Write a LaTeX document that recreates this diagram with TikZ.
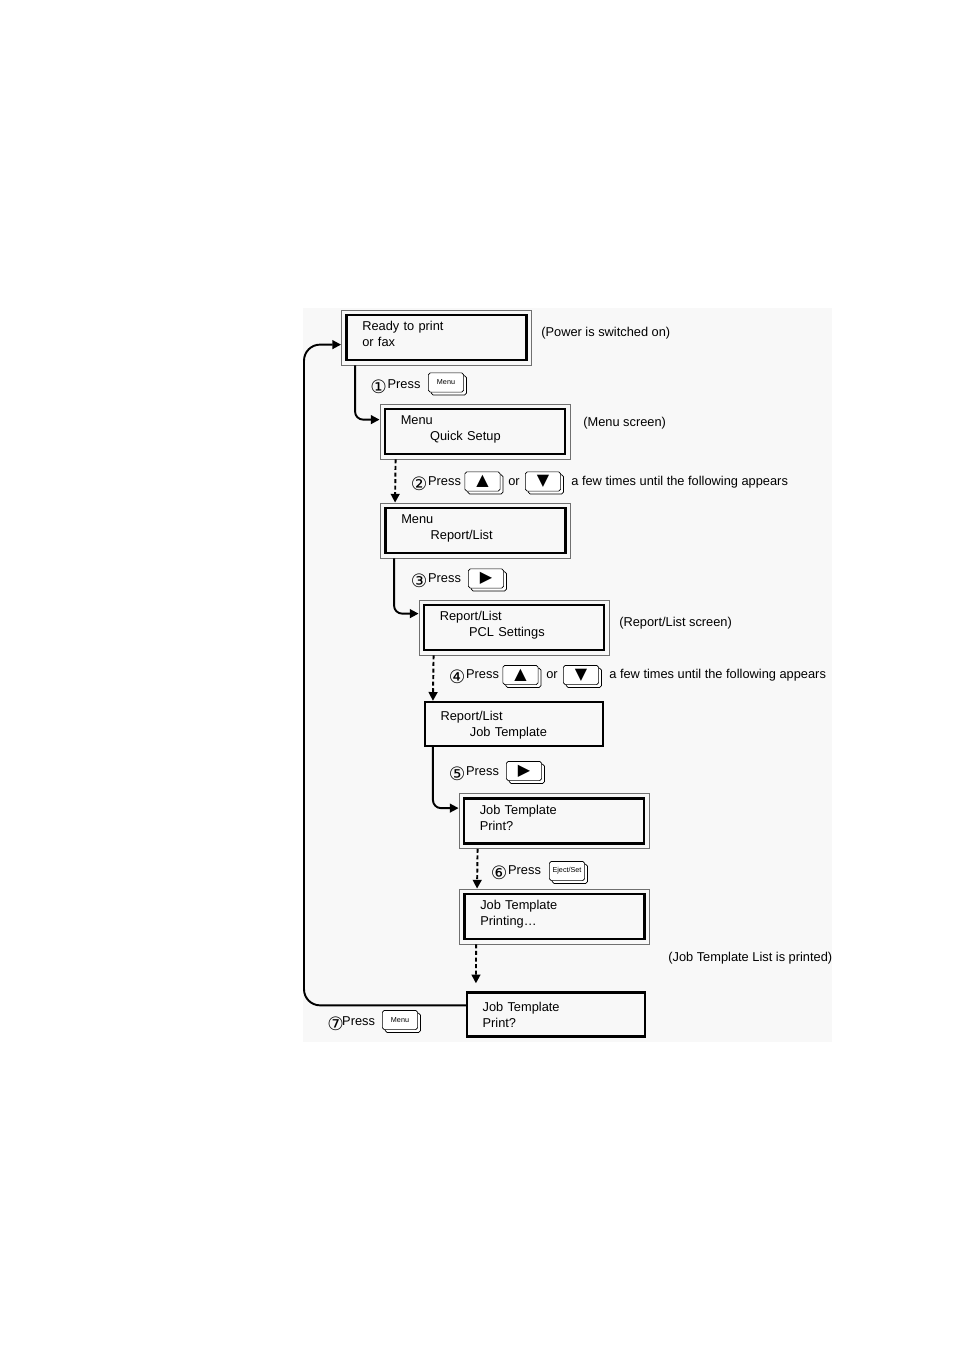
\documentclass[tikz,border=0pt]{standalone}
\usepackage{fontspec}
\setmainfont{Liberation Sans}
\newfontfamily\symfont{DejaVu Sans}
\usetikzlibrary{positioning, arrows.meta, calc, shadows}
\definecolor{panel}{HTML}{F8F8F8}
\definecolor{frame}{HTML}{707070}
\newcommand{\stepno}[1]{\raisebox{-3.3pt}{\symfont\fontsize{11.5}{12}\selectfont#1}}
\newcommand{\keysym}[1]{{\symfont\fontsize{10}{10}\selectfont#1}}

\begin{document}
\begin{tikzpicture}[
      x=0.624pt, y=-0.624pt,
      font=\fontsize{8}{10}\selectfont,
      lcd/.style={draw, line width=1.4pt, minimum width=111pt, minimum height=27.5pt,
                  inner xsep=9.7pt, text width=91.6pt, align=left, text depth=10pt},
      screen/.style={draw=frame, line width=0.5pt, minimum width=118.6pt, minimum height=34.3pt,
                  inner xsep=13pt, text width=92.6pt, align=left, text depth=14pt,
                  append after command={\pgfextra{\draw[line width=1.5pt]
                    ([shift={(3.4pt,-3.4pt)}]\tikzlastnode.north west) rectangle
                    ([shift={(-3.4pt,3.4pt)}]\tikzlastnode.south east);}}},
      key/.style={draw, fill=white, rounded corners=1.2pt, line width=0.45pt,
                  minimum width=22pt, minimum height=12pt, inner sep=0pt,
                  font=\fontsize{4.5}{5}\selectfont,
                  general shadow={shadow xshift=1.8pt, shadow yshift=-1.8pt,
                                  fill=white, draw=black, line width=0.45pt}},
      lbl/.style={inner sep=0pt, anchor=base west},
      flow/.style={line width=1.2pt, rounded corners=5pt, -{Triangle[length=5.5pt, width=5.5pt]}},
      dflow/.style={flow, dash pattern=on 2.5pt off 1.6pt}]
    \useasboundingbox (0,0) rectangle (954,1350);
    \fill[panel] (303,308) rectangle (832,1042);

    \node[screen] (s1) at (436.5,337.5) {Ready to print\\or fax};
    \node[screen] (s2) at (475,431.5)   {Menu\\\hspace*{18.3pt}Quick Setup};
    \node[screen] (s3) at (475.5,530.5) {Menu\\\hspace*{18.3pt}Report/List};
    \node[screen] (s4) at (514,627.5)   {Report/List\\\hspace*{18.3pt}PCL Settings};
    \node[lcd]    (s5) at (514,724)     {Report/List\\\hspace*{18.3pt}Job Template};
    \node[screen] (s6) at (554,821)     {Job Template\\Print?};
    \node[screen] (s7) at (554.5,916.5) {Job Template\\Printing…};
    \node[lcd]    (s8) at (556,1014.5)  {Job Template\\Print?};

    \node[lbl] (n1) at (541,336.5) {(Power is switched on)};
    \node[lbl] (n2) at (583,426.5) {(Menu screen)};
    \node[lbl] (n4) at (619,626.5) {(Report/List screen)};
    \node[lbl] (n7) at (668,961.5) {(Job Template List is printed)};

    \node[lbl] (p1) at (370,388) {\stepno{①}\hspace{0.5pt}Press};
    \node[key] (k1) at (446,382.5) {Menu};

    \node[lbl] (p2) at (410.5,485.5) {\stepno{②}\hspace{0.5pt}Press};
    \node[key] (k2u) at (482.5,481.5) {\keysym{▲}};
    \node[lbl] (o2) at (508,485.5) {or};
    \node[key] (k2d) at (543,481.5) {\keysym{▼}};
    \node[lbl] (f2) at (571,485.5) {a few times until the following appears};

    \node[lbl] (p3) at (410.5,582.5) {\stepno{③}\hspace{0.5pt}Press};
    \node[key] (k3) at (486,578.5) {\keysym{▶}};

    \node[lbl] (p4) at (448.5,678.5) {\stepno{④}\hspace{0.5pt}Press};
    \node[key] (k4u) at (520.5,675) {\keysym{▲}};
    \node[lbl] (o4) at (546,678.5) {or};
    \node[key] (k4d) at (581,675) {\keysym{▼}};
    \node[lbl] (f4) at (609,678.5) {a few times until the following appears};

    \node[lbl] (p5) at (448.5,775.5) {\stepno{⑤}\hspace{0.5pt}Press};
    \node[key] (k5) at (524,771) {\keysym{▶}};

    \node[lbl] (p6) at (490.5,874.5) {\stepno{⑥}\hspace{0.5pt}Press};
    \node[key] (k6) at (567,871) {Eject/Set};

    \node[lbl] (p7) at (327,1025.5) {\stepno{⑦}\hspace{-1pt}Press};
    \node[key] (k7) at (400,1020) {Menu};

    \draw[flow]  ($(s1.south west)+(14,0)$) |- ($(s2.north west)+(0,16)$);
    \draw[dflow] ($(s2.south west)+(16,0)$) -- ($(s3.north west)+(15,0)$);
    \draw[flow]  ($(s3.south west)+(14,0)$) |- ($(s4.north west)+(0,14)$);
    \draw[dflow] ($(s4.south west)+(15,0)$) -- ($(s5.north west)+(9,0)$);
    \draw[flow]  ($(s5.south west)+(9,0)$) |- ($(s6.north west)+(0,15)$);
    \draw[dflow] ($(s6.south west)+(19,0)$) -- ($(s7.north west)+(18,0)$);
    \draw[dflow] ($(s7.south west)+(17,0)$) -- ($(s8.north west)+(10,-8)$);
    \coordinate (back) at (304,700);
    \draw[flow, rounded corners=10pt] ($(s8.north west)+(0,14)$) -| (back) |- ($(s1.north west)+(0,35)$);
  \end{tikzpicture}
\end{document}
